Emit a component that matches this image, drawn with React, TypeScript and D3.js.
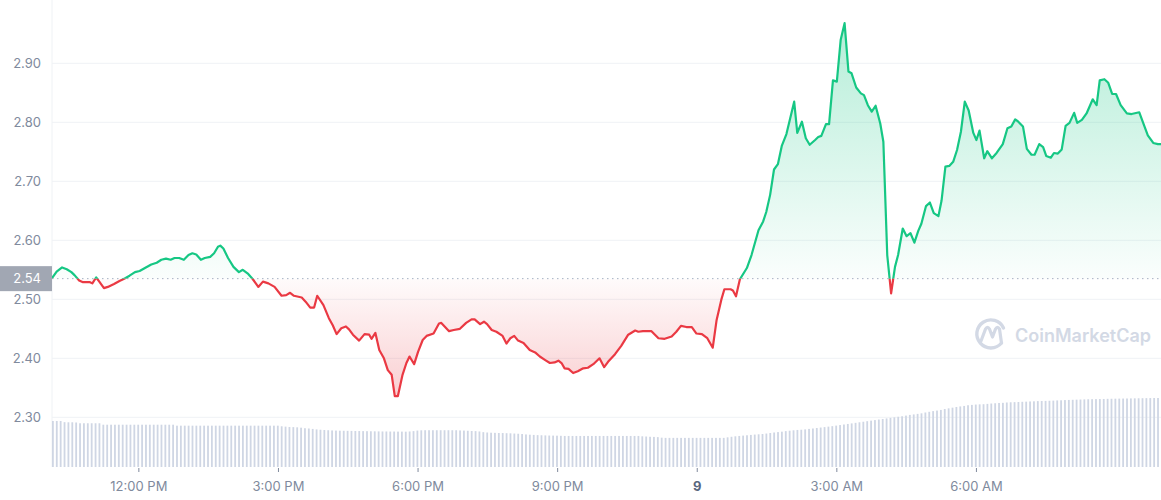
import React from "react";
import * as d3 from "d3";

// minutes after 10:00 AM on day 8
const minutes = [
  8, 14, 21, 27, 33, 37, 43, 48, 57, 60,
  65, 69, 75, 80, 88, 95, 103, 108, 115, 121,
  129, 136, 143, 149, 155, 161, 166, 172, 178, 184,
  189, 194, 200, 205, 212, 217, 222, 225, 229, 235,
  242, 249, 254, 261, 267, 274, 280, 287, 295, 304,
  310, 315, 320, 330, 335, 341, 346, 350, 358, 365,
  370, 375, 381, 387, 391, 396, 404, 411, 417, 420,
  425, 430, 436, 441, 446, 450, 454, 460, 465, 469,
  475, 480, 486, 491, 500, 507, 510, 520, 526, 534,
  542, 549, 553, 560, 565, 569, 575, 581, 589, 594,
  599, 604, 609, 616, 624, 631, 637, 644, 650, 656,
  661, 665, 669, 674, 680, 686, 693, 699, 706, 714,
  720, 725, 734, 742, 751, 760, 764, 770, 781, 790,
  798, 807, 813, 819, 826, 833, 839, 846, 853, 860,
  865, 871, 875, 883, 886, 890, 895, 904, 910, 919,
  925, 929, 934, 939, 944, 949, 955, 965, 969, 975,
  980, 985, 992, 996, 1000, 1006, 1010, 1015, 1020, 1025,
  1030, 1035, 1039, 1045, 1051, 1055, 1060, 1065, 1070, 1076,
  1080, 1085, 1090, 1095, 1099, 1105, 1110, 1115, 1120, 1125,
  1129, 1135, 1140, 1145, 1151, 1155, 1160, 1165, 1170, 1175,
  1180, 1185, 1190, 1196, 1200, 1204, 1210, 1214, 1220, 1226,
  1234, 1240, 1245, 1250, 1254, 1260, 1265, 1271, 1275, 1281,
  1286, 1290, 1296, 1300, 1305, 1310, 1315, 1320, 1326, 1330,
  1336, 1342, 1350, 1355, 1359, 1365, 1370, 1375, 1380, 1386,
  1394, 1400, 1410, 1415, 1421, 1428, 1434, 1438,
];

const prices = [
  2.536, 2.547, 2.554, 2.551, 2.546, 2.541, 2.532, 2.529, 2.529, 2.527,
  2.537, 2.53, 2.519, 2.521, 2.526, 2.531, 2.536, 2.54, 2.546, 2.548,
  2.554, 2.559, 2.562, 2.567, 2.569, 2.567, 2.57, 2.57, 2.567, 2.575,
  2.578, 2.576, 2.567, 2.57, 2.572, 2.578, 2.589, 2.591, 2.586, 2.57,
  2.555, 2.546, 2.55, 2.543, 2.534, 2.521, 2.53, 2.527, 2.521, 2.506,
  2.507, 2.511, 2.506, 2.503, 2.496, 2.486, 2.486, 2.506, 2.49, 2.468,
  2.456, 2.441, 2.451, 2.454, 2.449, 2.44, 2.43, 2.441, 2.44, 2.433,
  2.443, 2.414, 2.4, 2.38, 2.372, 2.336, 2.336, 2.372, 2.392, 2.403,
  2.39, 2.411, 2.431, 2.438, 2.442, 2.459, 2.46, 2.446, 2.448, 2.45,
  2.46, 2.466, 2.466, 2.458, 2.462, 2.458, 2.448, 2.445, 2.438, 2.425,
  2.434, 2.438, 2.43, 2.426, 2.414, 2.41, 2.403, 2.397, 2.392, 2.393,
  2.396, 2.392, 2.383, 2.382, 2.375, 2.378, 2.383, 2.384, 2.39, 2.4,
  2.385, 2.394, 2.407, 2.421, 2.44, 2.447, 2.445, 2.446, 2.446, 2.434,
  2.433, 2.437, 2.445, 2.455, 2.453, 2.453, 2.442, 2.441, 2.434, 2.418,
  2.465, 2.499, 2.517, 2.517, 2.515, 2.505, 2.534, 2.553, 2.575, 2.617,
  2.632, 2.648, 2.677, 2.72, 2.729, 2.76, 2.78, 2.835, 2.782, 2.801,
  2.773, 2.762, 2.77, 2.775, 2.777, 2.797, 2.797, 2.871, 2.869, 2.94,
  2.968, 2.886, 2.883, 2.859, 2.849, 2.846, 2.829, 2.818, 2.828, 2.798,
  2.767, 2.575, 2.51, 2.555, 2.575, 2.62, 2.607, 2.612, 2.596, 2.616,
  2.628, 2.658, 2.664, 2.646, 2.641, 2.667, 2.725, 2.726, 2.733, 2.753,
  2.784, 2.835, 2.82, 2.782, 2.77, 2.786, 2.739, 2.751, 2.739, 2.748,
  2.763, 2.79, 2.793, 2.805, 2.801, 2.793, 2.755, 2.745, 2.745, 2.763,
  2.758, 2.743, 2.74, 2.748, 2.747, 2.754, 2.794, 2.799, 2.816, 2.799,
  2.804, 2.815, 2.839, 2.829, 2.871, 2.873, 2.867, 2.848, 2.848, 2.829,
  2.815, 2.814, 2.817, 2.799, 2.778, 2.765, 2.763, 2.763,
];

// 24h volume (billions), one bar every 5 minutes from 10:08 AM
const volumes = [
  6.67, 6.67, 6.67, 6.5, 6.48, 6.48, 6.45, 6.34, 6.34, 6.34,
  6.34, 6.34, 6.34, 6.13, 6.13, 6.13, 6.13, 6.13, 6.13, 6.13,
  6.13, 6.13, 6.13, 6.13, 6.13, 6.13, 6.13, 6.13, 6.13, 6.13,
  6.13, 6.13, 5.99, 5.99, 5.99, 5.99, 5.99, 5.99, 5.99, 5.99,
  5.99, 5.99, 5.99, 5.99, 5.99, 5.99, 5.99, 5.99, 5.99, 5.99,
  5.99, 5.99, 5.99, 5.99, 5.99, 5.99, 5.99, 5.99, 5.99, 5.9,
  5.85, 5.8, 5.78, 5.75, 5.7, 5.62, 5.58, 5.52, 5.45, 5.4,
  5.36, 5.33, 5.3, 5.28, 5.26, 5.25, 5.24, 5.23, 5.22, 5.21,
  5.2, 5.19, 5.18, 5.17, 5.16, 5.15, 5.15, 5.14, 5.14, 5.13,
  5.13, 5.12, 5.15, 5.2, 5.28, 5.32, 5.33, 5.33, 5.33, 5.33,
  5.33, 5.33, 5.33, 5.33, 5.33, 5.3, 5.28, 5.25, 5.22, 5.2,
  5.15, 5.05, 5.0, 4.97, 4.95, 4.93, 4.92, 4.9, 4.88, 4.85,
  4.82, 4.78, 4.72, 4.68, 4.65, 4.62, 4.6, 4.58, 4.56, 4.55,
  4.54, 4.52, 4.5, 4.5, 4.5, 4.5, 4.5, 4.5, 4.5, 4.5,
  4.5, 4.5, 4.5, 4.5, 4.5, 4.5, 4.5, 4.5, 4.5, 4.5,
  4.5, 4.5, 4.45, 4.42, 4.38, 4.36, 4.33, 4.25, 4.22, 4.22,
  4.22, 4.22, 4.22, 4.22, 4.22, 4.22, 4.22, 4.22, 4.22, 4.22,
  4.22, 4.22, 4.22, 4.22, 4.3, 4.38, 4.45, 4.5, 4.55, 4.6,
  4.65, 4.7, 4.74, 4.78, 4.85, 4.93, 5.0, 5.06, 5.12, 5.2,
  5.26, 5.32, 5.37, 5.4, 5.45, 5.52, 5.58, 5.65, 5.72, 5.78,
  5.85, 5.92, 6.0, 6.08, 6.16, 6.24, 6.32, 6.4, 6.48, 6.56,
  6.64, 6.72, 6.8, 6.88, 6.96, 7.04, 7.12, 7.2, 7.28, 7.35,
  7.45, 7.55, 7.62, 7.7, 7.78, 7.9, 8.0, 8.1, 8.18, 8.27,
  8.4, 8.5, 8.6, 8.7, 8.78, 8.85, 8.95, 9.0, 9.05, 9.08,
  9.1, 9.15, 9.2, 9.24, 9.28, 9.3, 9.35, 9.38, 9.4, 9.42,
  9.45, 9.47, 9.5, 9.52, 9.55, 9.57, 9.58, 9.6, 9.62, 9.65,
  9.67, 9.7, 9.72, 9.74, 9.76, 9.78, 9.8, 9.82, 9.83, 9.84,
  9.85, 9.86, 9.88, 9.89, 9.9, 9.91, 9.92, 9.93, 9.94, 9.95,
  9.96, 9.97, 9.98, 9.99, 10.0, 10.0, 10.0,
];

const openPrice = 2.535;
const openLabel = "2.54";
const yTicks = [2.3, 2.4, 2.5, 2.6, 2.7, 2.8, 2.9];
const xTickHours = [12, 15, 18, 21, 24, 27, 30]; // hours after midnight of day 8
const xTickLabels = ["12:00 PM", "3:00 PM", "6:00 PM", "9:00 PM", "9", "3:00 AM", "6:00 AM"];

const W = 1161;
const H = 500;
const GREEN = "#16c784";
const RED = "#ea3943";
const FONT = "Inter, 'Noto Sans', sans-serif";

export default function App() {
  const day = new Date(2025, 2, 8, 0, 0, 0);
  const base = new Date(2025, 2, 8, 10, 0, 0);
  const t = (m: number) => new Date(base.getTime() + m * 60000);
  const data = minutes.map((m, i) => ({ t: t(m), v: prices[i] }));

  const left = 52;
  const right = 1161;
  const volBottom = 467;

  const x = d3.scaleTime().domain([data[0].t, data[data.length - 1].t]).range([left, right]);
  const y = d3.scaleLinear().domain([2.3, 2.9]).range([417.3, 63.3]);
  const yv = d3.scaleLinear().domain([0, 10]).range([volBottom, 398]);

  const by = y(openPrice);
  const line = d3.line<any>().x((d) => x(d.t)).y((d) => y(d.v)).curve(d3.curveLinear);
  const area = d3.area<any>().x((d) => x(d.t)).y0(by).y1((d) => y(d.v)).curve(d3.curveLinear);
  const lp = line(data) || "";
  const ap = area(data) || "";

  const barStart = data[0].t.getTime();
  const bars = volumes.map((v, i) => ({ t: new Date(barStart + i * 5 * 60000), v }));

  const tickTimes = xTickHours.map((h) => new Date(day.getTime() + h * 3600000));

  return (
    <svg width={W} height={H} style={{ position: "absolute", left: 0, top: 0, background: "#fff", display: "block" }} fontFamily={FONT}>
      <defs>
        <clipPath id="above">
          <rect x={left} y={0} width={right - left} height={by} />
        </clipPath>
        <clipPath id="below">
          <rect x={left} y={by} width={right - left} height={volBottom - by} />
        </clipPath>
        <linearGradient id="gGreen" gradientUnits="userSpaceOnUse" x1="0" y1="20" x2="0" y2={by}>
          <stop offset="0" stopColor={GREEN} stopOpacity={0.32} />
          <stop offset="1" stopColor={GREEN} stopOpacity={0.02} />
        </linearGradient>
        <linearGradient id="gRed" gradientUnits="userSpaceOnUse" x1="0" y1={by} x2="0" y2="400">
          <stop offset="0" stopColor={RED} stopOpacity={0.02} />
          <stop offset="1" stopColor={RED} stopOpacity={0.25} />
        </linearGradient>
      </defs>

      {/* grid */}
      {yTicks.map((v) => (
        <line key={"g" + v} x1={left} x2={right} y1={y(v)} y2={y(v)} stroke="#eff2f5" strokeWidth={1} />
      ))}
      <line x1={left} x2={left} y1={0} y2={volBottom} stroke="#eff2f5" strokeWidth={1} />

      {/* watermark */}
      <g>
        <path
          d="M 1001.5 343 A 14 14 0 1 1 1003.5 328"
          fill="none"
          stroke="#d3d9e5"
          strokeWidth={3.4}
          strokeLinecap="round"
        />
        <path
          d="M 981 341 L 985.5 329 Q 987.5 325.5 989.5 329 L 992.5 337 L 995.5 329 Q 997.5 325.5 999.5 329 L 1001.5 343"
          fill="none"
          stroke="#d3d9e5"
          strokeWidth={3.2}
          strokeLinejoin="round"
          strokeLinecap="round"
        />
        <text x={1015} y={342} fontSize={18} fontWeight={600} fill="#d3d9e5" textLength={136} lengthAdjust="spacingAndGlyphs">
          CoinMarketCap
        </text>
      </g>

      {/* volume bars */}
      {bars.map((b, i) => (
        <rect key={"b" + i} x={x(b.t)} y={yv(b.v)} width={1.8} height={volBottom - yv(b.v)} fill="#cfd6e4" />
      ))}

      {/* areas */}
      <path d={ap} fill="url(#gGreen)" clipPath="url(#above)" />
      <path d={ap} fill="url(#gRed)" clipPath="url(#below)" />

      {/* baseline */}
      <line x1={left} x2={right} y1={by} y2={by} stroke="#a6b0c3" strokeWidth={1} strokeDasharray="1.5,3.5" />

      {/* lines */}
      <path d={lp} fill="none" stroke={GREEN} strokeWidth={2.2} strokeLinejoin="round" clipPath="url(#above)" />
      <path d={lp} fill="none" stroke={RED} strokeWidth={2.2} strokeLinejoin="round" clipPath="url(#below)" />

      {/* y labels */}
      {yTicks.map((v) => (
        <text key={"yl" + v} x={41} y={y(v)} dy="0.35em" textAnchor="end" fontSize={13} fill="#808a9d">
          {v.toFixed(2)}
        </text>
      ))}
      <rect x={0} y={by - 12.5} width={52} height={25} fill="#a1a7b3" />
      <text x={41} y={by} dy="0.35em" textAnchor="end" fontSize={13} fill="#ffffff">
        {openLabel}
      </text>

      {/* x ticks */}
      {tickTimes.map((tt, i) => {
        const bold = xTickLabels[i] === "9";
        return (
          <g key={"xt" + i}>
            <line x1={x(tt)} x2={x(tt)} y1={468} y2={472} stroke="#808a9d" strokeWidth={1} />
            <text
              x={x(tt)}
              y={491}
              textAnchor="middle"
              fontSize={13}
              fontWeight={bold ? 700 : 400}
              fill={bold ? "#58667e" : "#808a9d"}
            >
              {xTickLabels[i]}
            </text>
          </g>
        );
      })}
    </svg>
  );
}
